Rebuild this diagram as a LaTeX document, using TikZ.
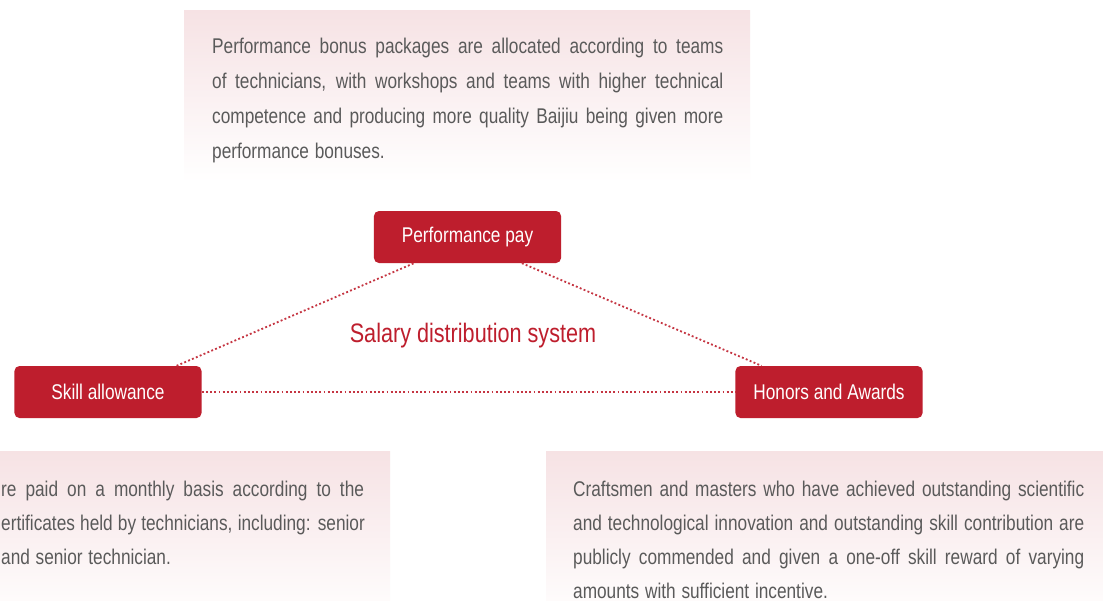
\documentclass[tikz,border=0pt]{standalone}
\usepackage{fontspec}
\setmainfont{Liberation Sans}
\usetikzlibrary{calc}

\definecolor{salaryred}{HTML}{BE1E2D}
\definecolor{notegray}{HTML}{5A5A5A}
\definecolor{notepink}{HTML}{F6E2E4}

% one justified line of a note, stretched to the given width
\newcommand{\noteline}[2]{\makebox[#1][s]{\spaceskip=0pt\xspaceskip=0pt #2}}

\begin{document}
\begin{tikzpicture}[x=1pt, y=-1pt,
    narrow/.style={xscale=0.81, transform shape},
    item/.style={narrow, fill=salaryred, text=white, rounded corners=5pt,
      minimum width=231pt, minimum height=52pt, inner sep=0pt,
      font=\fontsize{21.3}{25}\selectfont},
    note/.style={narrow, text=notegray, text width=631pt, inner sep=0pt,
      anchor=north west, align=left,
      font=\fontsize{21.3}{35}\selectfont},
    link/.style={salaryred!90, line width=1.8pt, dash pattern=on 1.9pt off 2.3pt},
  ]
    %% canvas: 1 unit = 1 px of the layout, y runs downwards
    \useasboundingbox (0,0) rectangle (1103,600);
    \clip (0,0) rectangle (1103,600);
    \fill[white] (0,0) rectangle (1103,600);

    %% --- note panels (pink fading to white) ---
    \shade[top color=notepink, bottom color=white] (184,10) rectangle (750,182);
    \shade[top color=notepink, bottom color=white] (-10,451) rectangle (390,623);
    \shade[top color=notepink, bottom color=white] (546,451) rectangle (1110,623);

    %% --- the three pay components ---
    \node[item] (perf)  at (467.5,237) {Performance pay};
    \node[item] (skill) at (108,392)   {Skill allowance};
    \node[item] (honor) at (829,392)   {Honors and Awards};

    \node[narrow, font=\fontsize{26.7}{30}\selectfont, text=salaryred] (title)
      at (473,336) {Salary distribution system};

    %% --- dotted links ---
    \draw[link] ($(skill.north west)!0.866!(skill.north east)$)
      -- ($(perf.south west)!0.214!(perf.south east)$);
    \draw[link] ($(perf.south west)!0.79!(perf.south east)$)
      -- ($(honor.north west)!0.14!(honor.north east)$);
    \draw[link] (skill.east) -- (honor.west);

    %% --- note texts (widths in unscaled pt: 511/0.81 = 631) ---
    \node[note] (perfnote) at (212,37.5) {%
      \noteline{631pt}{Performance bonus packages are allocated according to teams}\\
      \noteline{631pt}{of technicians, with workshops and teams with higher technical}\\
      \noteline{631pt}{competence and producing more quality Baijiu being given more}\\
      performance bonuses.};

    \node[note, text width=449pt, font=\fontsize{21.3}{34}\selectfont]
      (skillnote) at (1,480.5) {%
      \noteline{448pt}{re paid on a monthly basis according to the}\\
      \noteline{449pt}{ertificates held by technicians, including: senior}\\
      and senior technician.};

    \node[note, font=\fontsize{21.3}{34}\selectfont] (honornote) at (573,480.5) {%
      \noteline{631pt}{Craftsmen and masters who have achieved outstanding scientific}\\
      \noteline{631pt}{and technological innovation and outstanding skill contribution are}\\
      \noteline{631pt}{publicly commended and given a one-off skill reward of varying}\\
      amounts with sufficient incentive.};

\end{tikzpicture}
\end{document}
